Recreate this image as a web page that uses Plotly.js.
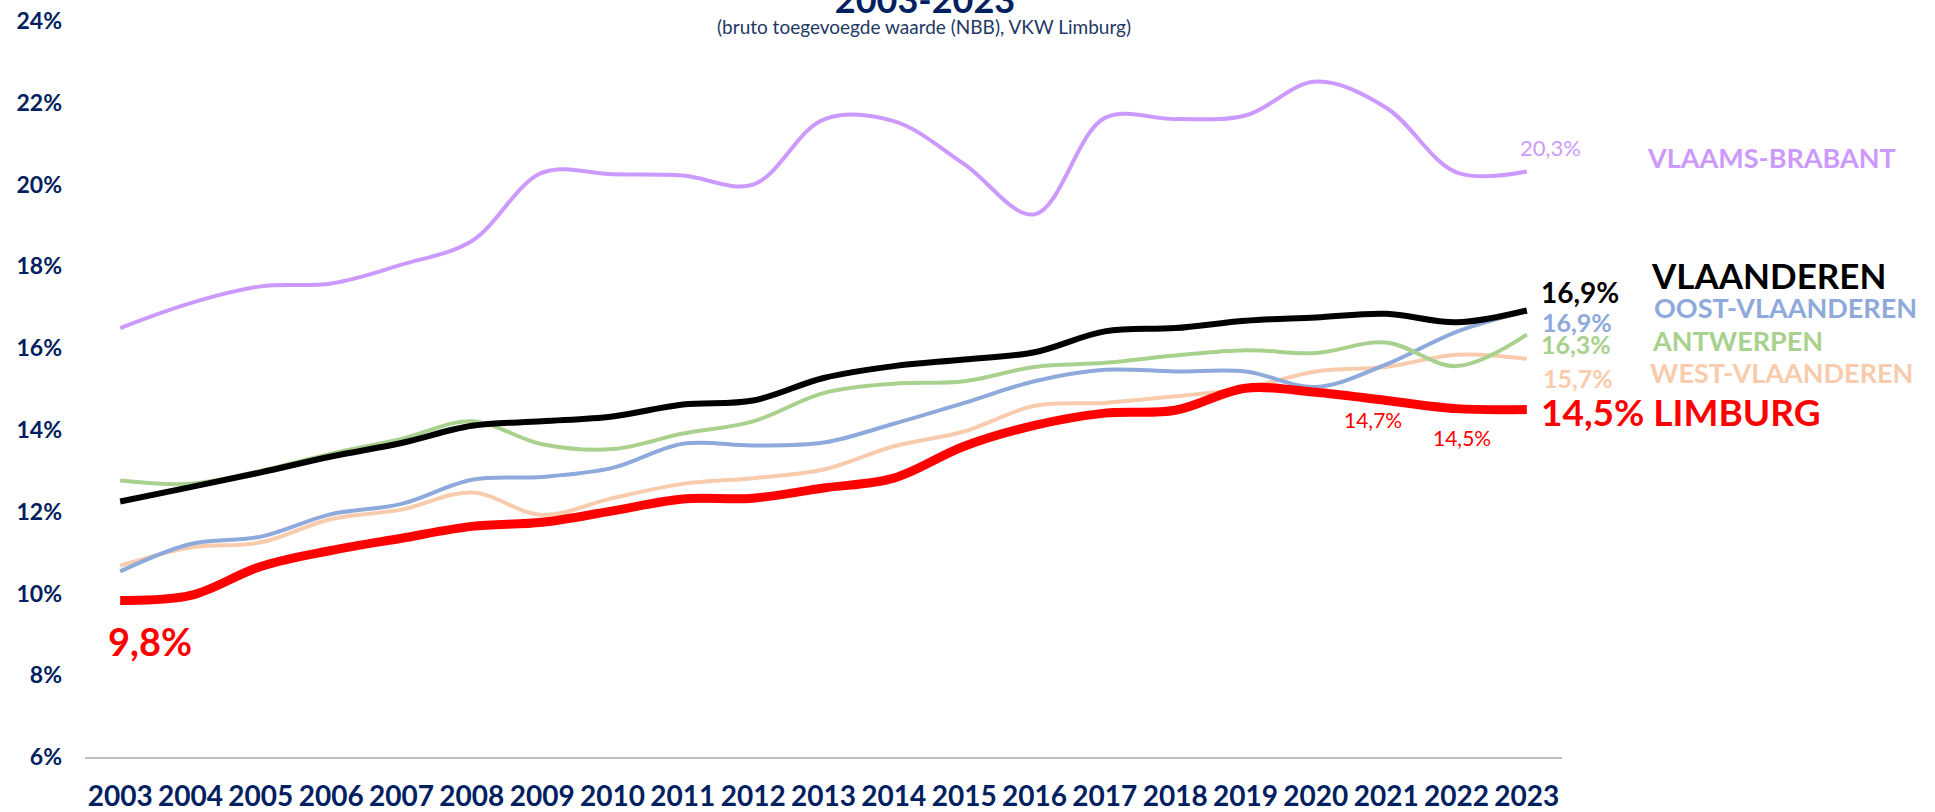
<!DOCTYPE html>
<html>
<head>
<meta charset="utf-8">
<script src="https://cdn.plot.ly/plotly-3.0.1.min.js"></script>
<style>
  html, body { margin: 0; padding: 0; background: #ffffff; }
  #chart { width: 1935px; height: 812px; }
</style>
</head>
<body>
<div id="chart"></div>
<script>
// ---- data (percent) ----
const years = ['2003','2004','2005','2006','2007','2008','2009','2010','2011','2012','2013',
               '2014','2015','2016','2017','2018','2019','2020','2021','2022','2023'];
const vlaamsBrabant  = [16.49,17.10,17.51,17.58,18.04,18.62,20.29,20.25,20.22,20.00,21.59,21.55,20.50,19.27,21.63,21.60,21.69,22.52,21.88,20.30,20.32];
const vlaanderen     = [12.25,12.60,12.96,13.35,13.68,14.10,14.21,14.33,14.62,14.72,15.27,15.56,15.72,15.90,16.41,16.49,16.67,16.75,16.84,16.63,16.92];
const oostVlaanderen = [10.54,11.21,11.39,11.94,12.19,12.78,12.85,13.07,13.66,13.62,13.69,14.15,14.66,15.19,15.47,15.43,15.43,15.05,15.60,16.40,16.90];
const antwerpen      = [12.76,12.68,13.00,13.42,13.78,14.21,13.65,13.53,13.91,14.21,14.90,15.13,15.19,15.54,15.64,15.82,15.95,15.88,16.14,15.56,16.33];
const westVlaanderen = [10.68,11.12,11.25,11.82,12.05,12.47,11.92,12.33,12.68,12.82,13.03,13.60,13.96,14.59,14.66,14.82,15.02,15.43,15.54,15.84,15.74];
const limburg        = [9.83,9.95,10.66,11.05,11.35,11.64,11.74,12.02,12.31,12.33,12.58,12.82,13.60,14.11,14.41,14.48,15.02,14.92,14.72,14.52,14.50];

const seriesNames = ['VLAAMS-BRABANT','VLAANDEREN','OOST-VLAANDEREN','ANTWERPEN','WEST-VLAANDEREN','LIMBURG'];
const titleText = '2003-2023';
const subtitleText = '(bruto toegevoegde waarde (NBB), VKW Limburg)';

// ---- styling / frame ----
const FONT = 'Lato, "Open Sans", sans-serif';
const NAVY = '#002060';
const C = { purple:'#CC99FF', black:'#000000', blue:'#8EA9DB', green:'#A9D18E', peach:'#F8CBAD', red:'#FF0000' };
const W = 1935, H = 812;
const PL = 85, PW = 1477, PT = 21, PH = 736;   // plot frame in pixels
const fmt = v => v.toFixed(1).replace('.', ',') + '%';
const last = a => a[a.length - 1];
const lastIdx = years.length - 1;

function line(y, color, width, name) {
  return { x: years, y: y, type: 'scatter', mode: 'lines', name: name,
           line: { color: color, width: width, shape: 'spline', smoothing: 1 },
           hoverinfo: 'x+y' };
}

const data = [
  line(vlaamsBrabant,  C.purple, 4, seriesNames[0]),
  line(westVlaanderen, C.peach,  4, seriesNames[4]),
  line(oostVlaanderen, C.blue,   4, seriesNames[2]),
  line(antwerpen,      C.green,  4, seriesNames[3]),
  line(vlaanderen,     C.black,  6, seriesNames[1]),
  line(limburg,        C.red,    9, seriesNames[5])
];

// idx = category index on the x axis
function valLabel(idx, y, text, color, size, bold, xshift, yshift, xanchor) {
  return { x: idx, y: y, xref: 'x', yref: 'y', text: text, showarrow: false,
           xanchor: xanchor || 'left', yanchor: 'middle', xshift: xshift, yshift: yshift,
           font: { family: FONT, size: size, color: color, weight: bold ? 'bold' : 'normal' } };
}
function nameLabel(px, py, text, color, size) {
  return { x: (px - PL) / PW, y: (PT + PH - py) / PH, xref: 'paper', yref: 'paper',
           text: text, showarrow: false, xanchor: 'left', yanchor: 'middle',
           font: { family: FONT, size: size, color: color, weight: 'bold' } };
}

const annotations = [
  { x: (924 - PL) / PW, y: (PT + PH - 27) / PH, xref: 'paper', yref: 'paper', text: subtitleText,
    showarrow: false, xanchor: 'center', yanchor: 'middle',
    font: { family: FONT, size: 19, color: '#1F3864' } },
  valLabel(lastIdx, last(vlaamsBrabant),  fmt(last(vlaamsBrabant)),  C.purple, 22, false, -9, 24),
  valLabel(lastIdx, last(vlaanderen),     fmt(last(vlaanderen)),     C.black,  28, true, 12, 18),
  valLabel(lastIdx, last(oostVlaanderen), fmt(last(oostVlaanderen)), C.blue,   25, true, 13, -11),
  valLabel(lastIdx, last(antwerpen),      fmt(last(antwerpen)),      C.green,  25, true, 12, -9),
  valLabel(lastIdx, last(westVlaanderen), fmt(last(westVlaanderen)), C.peach,  25, true, 14, -19),
  valLabel(lastIdx, last(limburg), fmt(last(limburg)) + ' ' + seriesNames[5], C.red, 37, true, 12, -2),
  valLabel(18, limburg[18], fmt(limburg[18]), C.red, 21, false, -13, -19, 'center'),
  valLabel(19, limburg[19], fmt(limburg[19]), C.red, 21, false, 5, -29, 'center'),
  valLabel(0,  limburg[0],  fmt(limburg[0]),  C.red, 38, true, 30, -41, 'center'),
  nameLabel(1645, 158, seriesNames[0], C.purple, 27),
  nameLabel(1649, 275, seriesNames[1], C.black, 35),
  nameLabel(1652, 307, seriesNames[2], C.blue, 27),
  nameLabel(1650, 340, seriesNames[3], C.green, 27),
  nameLabel(1648, 372, seriesNames[4], C.peach, 27)
];

const layout = {
  width: W, height: H,
  paper_bgcolor: '#ffffff', plot_bgcolor: '#ffffff',
  margin: { l: PL, r: W - PL - PW, t: PT, b: H - PT - PH, autoexpand: false },
  showlegend: false,
  title: { text: titleText, x: 925 / W, xanchor: 'center', xref: 'container',
           y: 1.0, yanchor: 'middle', yref: 'container',
           font: { family: FONT, size: 36, color: NAVY, weight: 'bold' } },
  xaxis: {
    type: 'category', range: [-0.5, 20.5], showgrid: false, zeroline: false,
    showline: true, linecolor: '#BFBFBF', linewidth: 2, ticks: '',
    ticklabelstandoff: 13, automargin: false,
    tickfont: { family: FONT, size: 28, color: NAVY, weight: 'bold' }
  },
  yaxis: {
    range: [6, 24], tick0: 6, dtick: 2, ticksuffix: '%', showgrid: false, zeroline: false,
    showline: false, ticks: '', ticklabelstandoff: 22, automargin: false,
    tickfont: { family: FONT, size: 23, color: NAVY, weight: 'bold' }
  },
  annotations: annotations
};

Plotly.newPlot('chart', data, layout, { displayModeBar: false, staticPlot: true });
</script>
</body>
</html>
